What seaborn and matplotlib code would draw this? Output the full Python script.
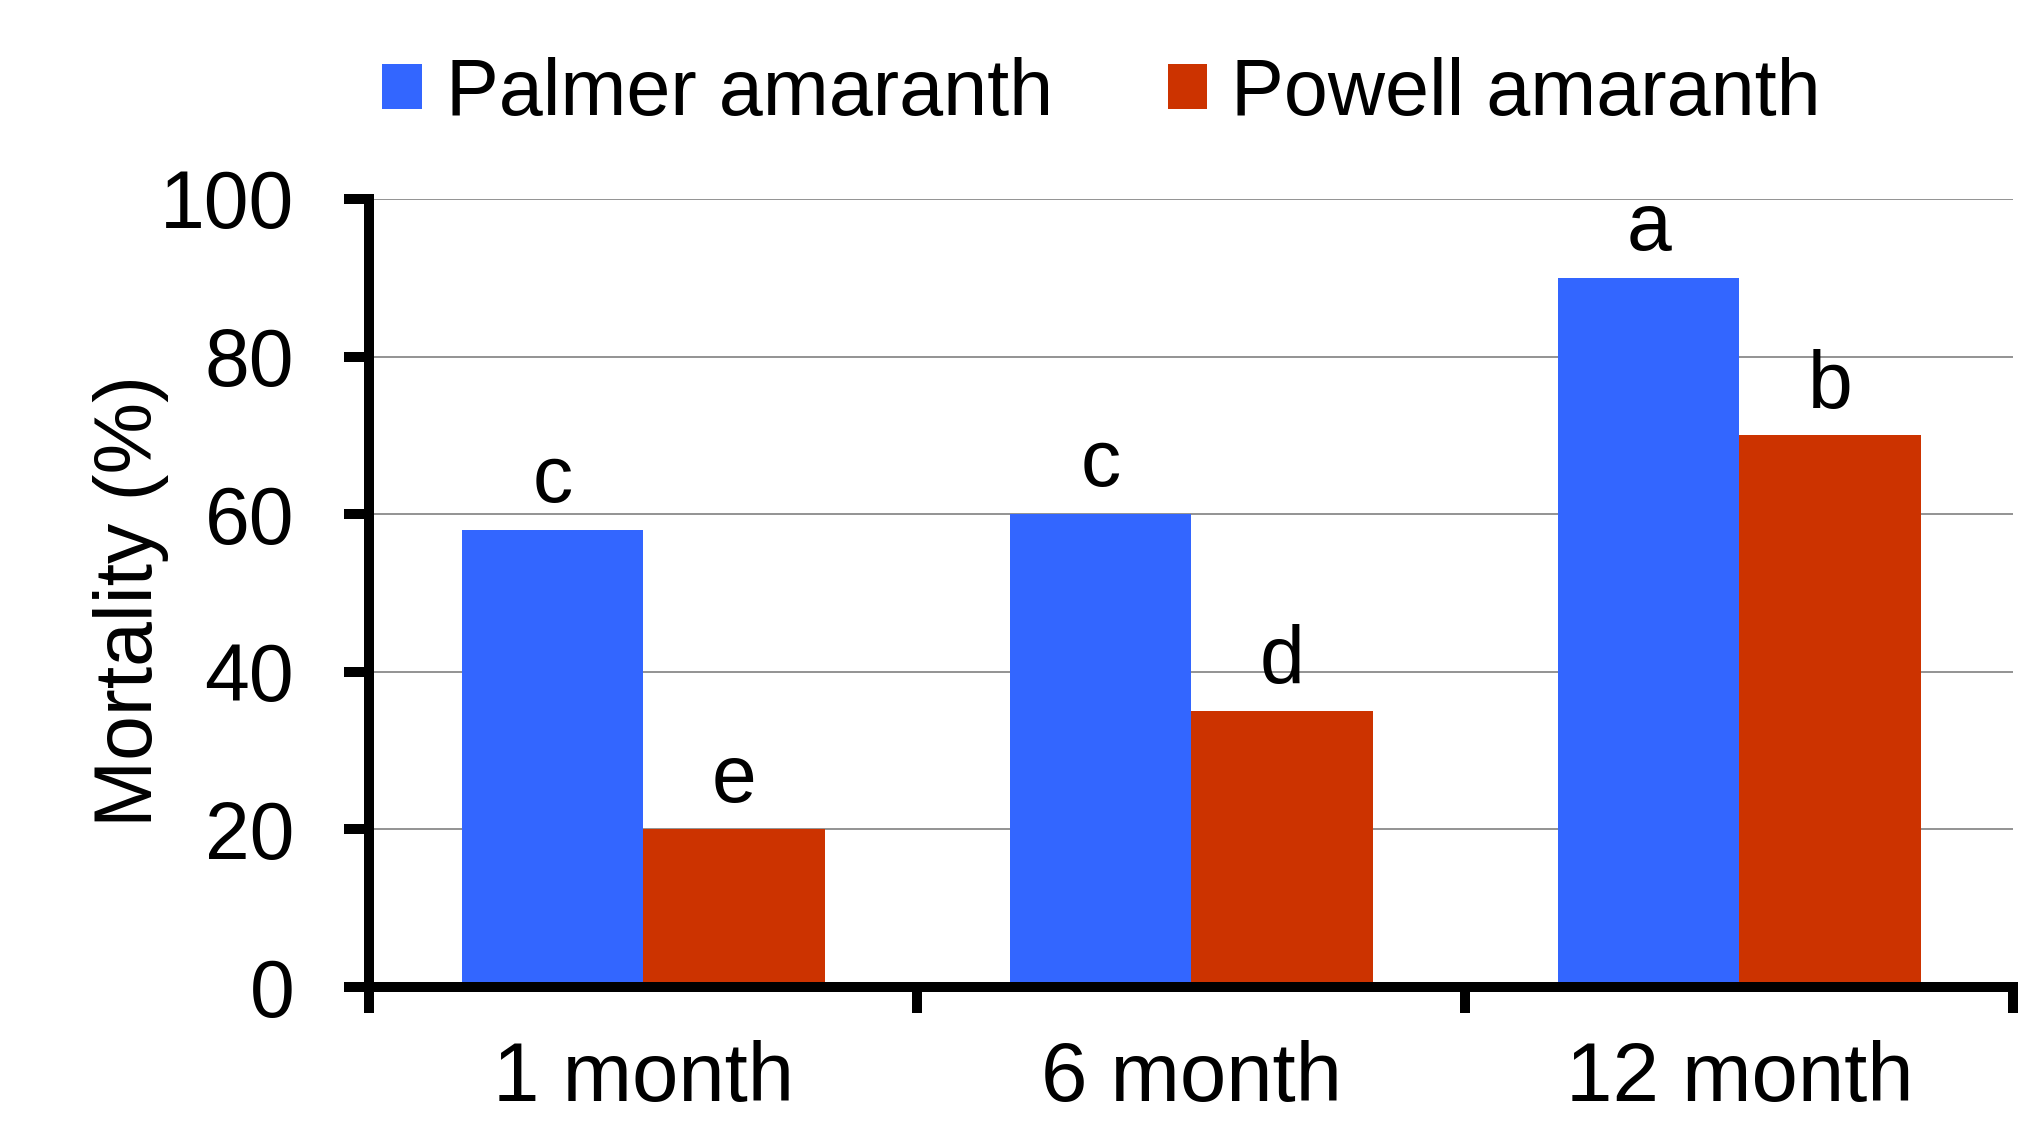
import numpy as np
import pandas as pd
import seaborn as sns
import matplotlib.pyplot as plt

# Dados do gráfico
periods = ["1 month", "6 month", "12 month"]
species = ["Palmer amaranth", "Powell amaranth"]
palmer = [58, 60, 90]
powell = [20, 35, 70]
palmer_letters = ["c", "c", "a"]
powell_letters = ["e", "d", "b"]
y_ticks = [0, 20, 40, 60, 80, 100]
colors = ["#3366FF", "#CC3300"]

df = pd.DataFrame({
    "period": periods * 2,
    "species": [species[0]] * len(periods) + [species[1]] * len(periods),
    "mortality": palmer + powell,
})

sns.set_theme(style="white")
plt.rcParams["font.family"] = ["Liberation Sans", "DejaVu Sans"]
plt.rcParams["text.color"] = "black"

fig = plt.figure(figsize=(20.4, 11.21), dpi=100)
ax = fig.add_axes([0.181, 0.1195, 0.806, 0.703])

sns.barplot(data=df, x="period", y="mortality", hue="species",
            order=periods, hue_order=species, palette=colors,
            width=0.662, saturation=1, linewidth=0, errorbar=None, ax=ax)

handles, labels = ax.get_legend_handles_labels()
ax.get_legend().remove()

# Letras de significância acima das barras
for container, letters in zip(ax.containers, [palmer_letters, powell_letters]):
    for bar, letter in zip(container, letters):
        ax.annotate(letter, (bar.get_x() + bar.get_width() / 2, bar.get_height()),
                    xytext=(0, 20), textcoords="offset points",
                    ha="center", va="baseline", fontsize=58, color="black")

# Eixos
ax.set_ylim(0, 100)
ax.set_xlim(-0.5, 2.5)
ax.set_yticks(y_ticks)
ax.set_xticks([-0.5, 0.5, 1.5, 2.5], labels=[""] * 4)
ax.set_xticks(range(len(periods)), labels=periods, minor=True)
ax.tick_params(axis="x", which="major", direction="out", length=19, width=7.2,
               bottom=True, color="black")
ax.tick_params(axis="x", which="minor", length=0, pad=38, labelsize=60,
               labelcolor="black")
ax.tick_params(axis="y", direction="out", length=18, width=7.2, pad=36,
               labelsize=58, left=True, color="black", labelcolor="black")

for side in ["top", "right"]:
    ax.spines[side].set_visible(False)
for side in ["left", "bottom"]:
    ax.spines[side].set_color("black")
    ax.spines[side].set_linewidth(7.2)

ax.set_axisbelow(True)
ax.yaxis.grid(True, color="#808080", linewidth=1.2)
ax.xaxis.grid(False)

ax.set_xlabel("")
ax.set_ylabel("Mortality (%)", fontsize=58, color="black")
ax.yaxis.set_label_coords(-0.122, 0.49)

fig.legend(handles, labels, loc="center", bbox_to_anchor=(0.54, 0.916), ncol=2,
           frameon=False, fontsize=57, handlelength=0.5, handleheight=0.5,
           handletextpad=0.3, columnspacing=1.45, borderpad=0, borderaxespad=0,
           labelcolor="black")

fig.savefig("out.png", dpi=100)
